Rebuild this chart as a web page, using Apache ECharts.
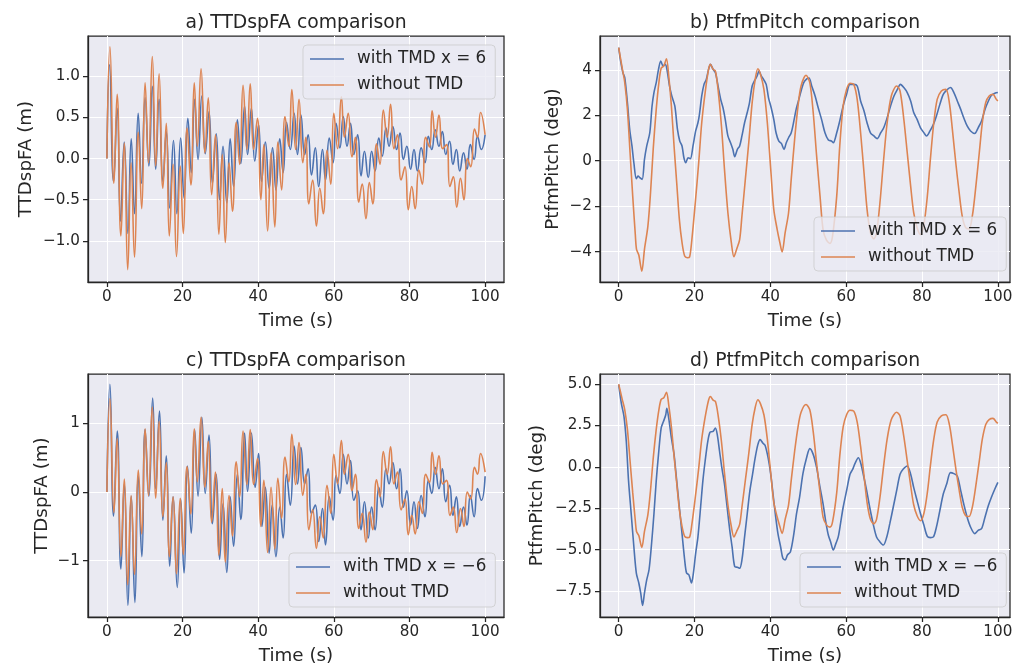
<!DOCTYPE html>
<html>
<head>
<meta charset="utf-8">
<script src="https://cdn.jsdelivr.net/npm/echarts@6/dist/echarts.min.js"></script>
<style>
  html, body { margin: 0; padding: 0; background: #ffffff; }
  #chart { width: 1027px; height: 666px; }
</style>
</head>
<body>
<div id="chart"></div>
<script>
// ---------------- data ----------------
const xTicks = [0, 20, 40, 60, 80, 100];
const yTicksA = [-1, -0.5, 0, 0.5, 1];
const yTicksB = [-4, -2, 0, 2, 4];
const yTicksC = [-1, 0, 1];
const yTicksD = [-7.5, -5, -2.5, 0, 2.5, 5];

const nameWith6 = 'with TMD x = 6';
const nameWithM6 = 'with TMD x = \u22126';
const nameWithout = 'without TMD';

// TTDspFA without TMD: [time s, value m] at local extrema
const ttdWithout = [[0,0],[0.8,1.36],[1.85,-0.30],[2.7,0.78],[3.7,-0.94],[4.6,0.19],[5.5,-1.35],[6.4,-0.05],[7.3,-1.20],[8.3,0.32],[9.2,-0.61],[10.1,0.92],[11.0,-0.05],[12.0,1.24],[12.9,-0.09],[13.8,1.03],[14.8,-0.36],[15.7,0.43],[16.5,-0.94],[17.5,-0.07],[18.4,-1.19],[19.4,-0.09],[20.2,-0.91],[21.2,0.37],[22.2,-0.32],[23.1,0.92],[23.9,0.15],[24.9,1.09],[25.9,0.07],[26.8,0.74],[27.7,-0.44],[28.7,0.29],[29.6,-0.92],[30.5,0.05],[31.3,-1.02],[32.3,-0.05],[33.2,-0.64],[34.2,0.44],[35.1,-0.07],[36.0,0.89],[37.0,0.11],[37.9,0.91],[38.8,0.11],[39.8,0.49],[40.7,-0.50],[41.5,0.17],[42.5,-0.88],[43.4,0.07],[44.4,-0.83],[45.2,0.20],[46.2,-0.38],[47.1,0.51],[48.1,0.15],[48.9,0.84],[49.9,0.11],[50.8,0.72],[51.8,-0.05],[52.6,0.26],[53.4,-0.55],[54.4,-0.26],[55.4,-0.82],[56.3,-0.36],[57.2,-0.67],[58.2,0.10],[59.2,-0.31],[60.0,0.55],[61.0,0.12],[62.0,0.75],[62.8,0.26],[63.8,0.55],[64.8,0.02],[65.7,0.26],[66.6,-0.53],[67.5,-0.31],[68.5,-0.73],[69.4,-0.29],[70.3,-0.55],[71.3,0.18],[72.2,-0.07],[73.1,0.59],[74.1,0.26],[75.0,0.66],[75.9,0.12],[76.8,0.29],[77.8,-0.26],[78.8,-0.10],[79.7,-0.62],[80.6,-0.34],[81.5,-0.61],[82.5,-0.14],[83.4,-0.31],[84.3,0.26],[85.3,0.14],[86.0,0.58],[86.9,0.26],[87.8,0.53],[88.8,0.12],[89.8,0.17],[90.7,-0.34],[91.6,-0.22],[92.5,-0.59],[93.5,-0.24],[94.4,-0.50],[95.3,0.00],[96.2,-0.10],[97.2,0.36],[98.0,0.26],[98.8,0.56],[100,0.29]];

// TTDspFA with TMD x = 6
const ttdWith6 = [[0,0],[0.7,1.14],[1.76,-0.28],[2.73,0.61],[3.6,-0.76],[4.58,0.20],[5.55,-0.91],[6.43,0.24],[7.3,-0.67],[8.27,0.55],[9.15,-0.30],[10.1,0.74],[11.1,-0.09],[12.0,0.88],[12.9,-0.13],[13.8,0.72],[14.8,-0.28],[15.7,0.33],[16.6,-0.60],[17.6,0.22],[18.5,-0.67],[19.5,0.25],[20.4,-0.48],[21.4,0.49],[22.3,-0.17],[23.2,0.72],[24.1,-0.01],[25.1,0.76],[26.0,0.06],[27.0,0.57],[27.9,-0.30],[28.9,0.30],[29.8,-0.50],[30.7,0.15],[31.7,-0.54],[32.6,0.24],[33.5,-0.34],[34.5,0.47],[35.4,-0.06],[36.4,0.64],[37.2,0.05],[38.2,0.61],[39.1,-0.03],[40.1,0.41],[40.9,-0.28],[41.9,0.20],[42.9,-0.36],[43.8,0.13],[44.7,-0.38],[45.7,0.24],[46.6,-0.17],[47.5,0.44],[48.5,0.11],[49.5,0.55],[50.4,0.05],[51.3,0.53],[52.3,0.05],[53.2,0.29],[54.1,-0.20],[55.1,0.13],[56.0,-0.34],[57.0,0.11],[57.8,-0.26],[58.8,0.25],[59.8,-0.05],[60.6,0.43],[61.6,0.13],[62.5,0.51],[63.5,0.15],[64.4,0.43],[65.3,0.05],[66.3,0.29],[67.2,-0.21],[68.1,0.09],[69.1,-0.23],[70.0,0.09],[70.9,-0.15],[71.9,0.25],[72.8,0.03],[73.8,0.37],[74.6,0.15],[75.6,0.39],[76.6,0.11],[77.5,0.31],[78.4,-0.01],[79.3,0.15],[80.3,-0.13],[81.2,0.11],[82.1,-0.15],[83.1,0.13],[84.1,-0.05],[85.0,0.27],[85.9,0.11],[86.8,0.35],[87.8,0.15],[88.7,0.33],[89.6,0.05],[90.6,0.21],[91.5,-0.07],[92.4,0.11],[93.3,-0.15],[94.3,0.07],[95.2,-0.13],[96.1,0.17],[97.1,-0.01],[98.0,0.27],[99.0,0.11],[100,0.29]];

// TTDspFA with TMD x = -6
const ttdWithM6 = [[0,0],[0.8,1.57],[1.76,-0.35],[2.73,0.89],[3.7,-1.12],[4.6,0.12],[5.55,-1.65],[6.43,-0.06],[7.4,-1.61],[8.27,0.24],[9.24,-0.94],[10.1,0.91],[11.1,-0.06],[12.1,1.37],[12.9,0.05],[13.9,1.18],[14.8,-0.41],[15.7,0.53],[16.6,-1.08],[17.5,-0.07],[18.6,-1.39],[19.5,-0.10],[20.4,-1.18],[21.3,0.38],[22.3,-0.60],[23.2,0.91],[24.1,-0.06],[25.1,1.09],[26.0,-0.02],[27.0,0.83],[27.9,-0.46],[28.9,0.26],[29.8,-0.98],[30.7,-0.17],[31.7,-1.17],[32.6,-0.07],[33.5,-0.79],[34.5,0.26],[35.4,-0.40],[36.4,0.86],[37.2,0.01],[38.2,0.86],[39.2,0.07],[40.1,0.56],[41.0,-0.50],[41.9,0.07],[42.9,-0.89],[43.7,-0.19],[44.7,-0.94],[45.7,-0.22],[46.6,-0.67],[47.5,0.26],[48.5,-0.19],[49.5,0.67],[50.4,0.12],[51.3,0.65],[52.3,0.12],[53.2,0.34],[54.1,-0.31],[55.1,-0.19],[56.0,-0.72],[57.0,-0.24],[57.8,-0.77],[58.8,-0.07],[59.8,-0.41],[60.6,0.24],[61.6,-0.02],[62.5,0.55],[63.5,0.12],[64.4,0.46],[65.3,-0.12],[66.3,0.02],[67.2,-0.55],[68.1,-0.14],[69.1,-0.67],[70.0,-0.22],[70.9,-0.55],[71.9,0.07],[72.8,-0.22],[73.8,0.34],[74.6,0.12],[75.6,0.43],[76.6,0.05],[77.5,0.34],[78.4,-0.22],[79.3,0.02],[80.3,-0.48],[81.2,-0.14],[82.1,-0.53],[83.1,-0.05],[84.1,-0.36],[85.0,0.17],[85.9,-0.02],[86.8,0.36],[87.8,0.05],[88.7,0.34],[89.6,-0.14],[90.6,0.10],[91.5,-0.34],[92.4,-0.07],[93.3,-0.50],[94.3,-0.22],[95.2,-0.48],[96.1,-0.05],[97.1,-0.36],[98.0,0.05],[99.0,-0.12],[100,0.23]];

// PtfmPitch without TMD: [time s, deg]
const pitchWithout = [[0,4.98],[0.9,4.1],[1.6,3.44],[2.3,2.26],[3.0,0.35],[3.7,-1.56],[4.4,-3.3],[4.7,-3.9],[5.3,-4.15],[6.1,-4.86],[6.8,-3.9],[7.7,-2.88],[8.4,-1.4],[9.1,0.5],[9.9,2.26],[10.6,3.44],[11.2,4.07],[11.9,4.17],[12.6,4.49],[13.2,3.73],[13.9,2.41],[14.6,0.65],[15.3,-0.97],[16.0,-2.58],[16.7,-3.6],[17.4,-4.2],[18.1,-4.27],[18.7,-4.24],[19.3,-3.47],[20.2,-1.85],[21.1,-0.09],[21.9,1.67],[22.8,3.0],[23.7,4.02],[24.2,4.24],[24.9,4.02],[25.5,3.95],[26.2,3.14],[27.1,1.53],[27.9,-0.38],[28.8,-2.29],[29.7,-3.6],[30.4,-4.23],[31.1,-3.9],[31.9,-3.47],[32.5,-2.44],[33.4,-0.82],[34.3,0.79],[35.2,2.56],[36.0,3.58],[36.7,4.05],[37.4,3.8],[38.3,3.14],[39.2,1.67],[40.1,-0.38],[40.9,-2.14],[41.8,-3.03],[42.5,-3.6],[43.1,-4.02],[43.9,-3.17],[44.8,-2.29],[45.5,-0.82],[46.4,0.94],[47.3,2.41],[48.1,3.29],[49.4,3.76],[50.4,3.44],[51.3,2.12],[52.2,0.21],[53.1,-1.56],[53.9,-3.03],[54.8,-3.5],[55.7,-3.64],[56.4,-3.32],[57.5,-1.56],[58.3,0.65],[59.2,2.41],[60.1,3.14],[61.0,3.41],[62.0,3.36],[62.9,2.7],[63.8,1.23],[64.7,-0.53],[65.5,-2.14],[66.4,-3.17],[67.3,-3.44],[68.0,-3.17],[68.9,-1.85],[69.8,-0.09],[70.8,1.67],[71.9,2.85],[73.3,3.29],[74.2,3.07],[75.2,1.82],[76.1,0.35],[77.0,-1.12],[77.8,-2.29],[78.7,-2.95],[79.6,-3.25],[80.5,-2.8],[81.4,-1.56],[82.2,0.06],[83.1,1.67],[84.0,2.7],[85.1,3.07],[86.3,3.14],[87.2,2.56],[88.0,1.38],[88.9,-0.09],[89.8,-1.41],[90.6,-2.44],[91.5,-2.95],[92.4,-3.0],[93.3,-2.4],[94.2,-1.12],[95.1,0.35],[95.9,1.67],[96.8,2.56],[97.7,2.85],[98.7,2.92],[99.6,2.70],[100,2.63]];

// PtfmPitch with TMD x = 6
const pitchWith6 = [[0,4.98],[0.5,4.39],[1.1,3.88],[1.6,3.66],[2.3,2.56],[2.9,1.38],[3.5,0.65],[4.0,-0.09],[4.65,-0.79],[5.1,-0.68],[5.6,-0.75],[6.2,-0.82],[6.8,0.06],[7.4,0.65],[8.2,1.23],[8.8,2.41],[9.3,3.0],[9.9,3.44],[10.5,4.02],[11.1,4.39],[11.7,4.17],[12.3,4.24],[12.8,3.95],[13.4,3.29],[14.0,2.85],[14.8,2.41],[15.5,1.38],[16.1,0.87],[16.7,0.65],[17.2,0.13],[17.7,-0.09],[18.3,0.13],[18.9,0.09],[19.6,0.65],[20.3,1.31],[20.9,1.67],[21.3,2.04],[21.9,2.85],[22.5,3.36],[23.1,3.58],[23.7,4.02],[24.2,4.24],[24.9,4.02],[25.5,3.88],[26.2,3.29],[26.9,2.7],[27.5,2.34],[28.1,1.82],[28.8,1.09],[29.5,0.79],[30.1,0.5],[30.6,0.18],[31.3,0.5],[31.9,0.65],[32.5,1.09],[33.2,1.67],[33.9,2.12],[34.5,2.56],[35.2,3.29],[35.8,3.51],[36.5,3.73],[37.0,3.95],[37.6,3.73],[38.2,3.58],[38.9,3.36],[39.5,2.78],[40.2,2.34],[40.9,1.82],[41.5,1.23],[42.2,0.87],[42.9,0.76],[43.6,0.5],[44.2,0.79],[44.8,1.01],[45.5,1.23],[46.2,1.75],[46.8,2.26],[47.4,2.63],[48.1,3.07],[48.8,3.44],[49.6,3.6],[50.2,3.64],[50.9,3.29],[51.8,2.85],[52.6,2.34],[53.5,1.82],[54.4,1.23],[55.3,0.91],[56.1,0.87],[56.6,0.79],[57.5,1.23],[58.3,1.75],[59.2,2.41],[60.1,2.92],[61.0,3.36],[62.0,3.36],[62.9,3.29],[63.8,2.63],[64.7,2.19],[65.5,1.67],[66.4,1.23],[67.3,1.09],[68.2,0.97],[69.1,1.23],[69.9,1.45],[70.8,1.89],[71.7,2.41],[72.6,2.85],[73.5,3.14],[74.3,3.36],[75.2,3.22],[76.1,3.0],[77.0,2.63],[77.8,2.12],[78.7,1.82],[79.6,1.45],[80.5,1.23],[81.2,1.09],[82.1,1.31],[83.0,1.6],[83.8,1.97],[84.7,2.48],[85.6,2.92],[86.5,3.11],[87.5,3.22],[88.4,3.0],[89.3,2.63],[90.2,2.26],[91.0,1.89],[91.9,1.53],[92.8,1.31],[93.9,1.2],[94.8,1.45],[95.7,1.75],[96.6,2.26],[97.5,2.63],[98.3,2.88],[99.2,2.97],[100,3.0]];

// PtfmPitch with TMD x = -6
const pitchWithM6 = [[0,4.96],[0.7,3.83],[1.4,3.03],[2.0,1.54],[2.6,-0.85],[3.3,-2.83],[4.0,-4.82],[4.65,-6.41],[5.3,-7.01],[5.8,-7.61],[6.3,-8.36],[6.8,-7.61],[7.4,-6.81],[8.0,-6.21],[8.6,-4.82],[9.3,-2.83],[9.9,-0.85],[10.5,0.75],[11.2,2.34],[11.8,2.73],[12.4,3.13],[12.7,3.53],[13.2,2.93],[13.9,1.74],[14.6,0.75],[15.3,-0.85],[16.0,-2.44],[16.7,-4.03],[17.4,-5.62],[17.9,-6.41],[18.5,-6.51],[19.2,-7.01],[19.7,-6.41],[20.3,-5.22],[20.9,-4.23],[21.6,-2.44],[22.2,-0.85],[22.8,0.35],[23.5,1.54],[24.1,2.09],[24.9,2.14],[25.5,2.34],[26.0,1.94],[26.6,0.94],[27.2,-0.05],[27.9,-1.04],[28.6,-2.44],[29.3,-3.83],[29.9,-4.82],[30.6,-6.02],[31.3,-6.06],[31.9,-6.12],[32.5,-5.62],[33.2,-4.23],[33.9,-2.83],[34.6,-1.44],[35.3,-0.45],[36.0,0.55],[36.7,1.34],[37.3,1.64],[38.0,1.44],[38.6,1.30],[39.4,0.55],[40.1,-0.45],[40.7,-1.64],[41.3,-2.83],[42.0,-4.03],[42.7,-4.82],[43.3,-5.52],[43.9,-5.62],[44.5,-5.32],[45.3,-5.12],[46.2,-4.03],[46.9,-2.83],[47.7,-1.84],[48.6,-0.40],[49.55,0.55],[50.4,1.10],[51.3,0.75],[52.2,-0.05],[53.1,-1.24],[53.9,-2.24],[54.7,-3.43],[55.3,-4.13],[55.9,-4.53],[56.6,-5.02],[57.3,-4.62],[57.9,-4.23],[58.5,-3.43],[59.2,-2.44],[60.1,-1.44],[61.0,-0.45],[61.7,-0.15],[62.3,0.19],[63.2,0.55],[63.8,0.25],[64.5,-0.45],[65.4,-1.44],[66.2,-2.44],[67.1,-3.43],[68.0,-4.23],[68.9,-4.53],[69.8,-4.72],[70.7,-4.23],[71.5,-3.43],[72.4,-2.44],[73.3,-1.44],[74.2,-0.45],[75.0,-0.15],[76.1,0.05],[77.0,-0.45],[77.8,-1.24],[78.7,-2.04],[79.6,-2.83],[80.5,-3.53],[81.4,-4.20],[82.2,-4.27],[83.0,-4.23],[83.8,-3.63],[84.7,-2.64],[85.6,-1.64],[86.5,-1.04],[87.5,-0.35],[88.4,-0.41],[89.3,-0.55],[90.2,-1.44],[91.0,-2.24],[91.9,-3.04],[92.8,-3.63],[93.9,-4.03],[94.8,-3.83],[95.7,-3.73],[96.6,-3.04],[97.5,-2.34],[98.3,-1.84],[99.2,-1.34],[100,-0.94]];

// ---------------- styling / layout ----------------
const FONT = 'DejaVu Sans';
const TXT = '#262626';
const BLUE = '#4C72B0';
const ORANGE = '#DD8452';
const minus = s => String(s).replace('-', '\u2212');

const panels = [
  { title: 'a) TTDspFA comparison', left: 88, top: 36, width: 416, xMin: -5, xMax: 105,
    yMin: -1.5, yMax: 1.49, yTicks: yTicksA, fmt: v => minus(v.toFixed(1)),
    yName: 'TTDspFA (m)', yGap: 53, smooth: 0.5,
    series: [[nameWith6, ttdWith6, BLUE], [nameWithout, ttdWithout, ORANGE]],
    legend: { left: 303, top: 45 } },
  { title: 'b) PtfmPitch comparison', left: 600, top: 36, width: 410, xMin: -4.93, xMax: 103.2,
    yMin: -5.34, yMax: 5.49, yTicks: yTicksB, fmt: v => minus(v),
    yName: 'PtfmPitch (deg)', yGap: 38, smooth: 0.3,
    series: [[nameWith6, pitchWith6, BLUE], [nameWithout, pitchWithout, ORANGE]],
    legend: { left: 814, top: 217 } },
  { title: 'c) TTDspFA comparison', left: 88, top: 374, width: 416, xMin: -5, xMax: 105,
    yMin: -1.82, yMax: 1.72, yTicks: yTicksC, fmt: v => minus(v),
    yName: 'TTDspFA (m)', yGap: 37, smooth: 0.5,
    series: [[nameWithM6, ttdWithM6, BLUE], [nameWithout, ttdWithout, ORANGE]],
    legend: { left: 289, top: 553 } },
  { title: 'd) PtfmPitch comparison', left: 600, top: 374, width: 410, xMin: -4.93, xMax: 103.2,
    yMin: -9.06, yMax: 5.6, yTicks: yTicksD, fmt: v => minus(v.toFixed(1)),
    yName: 'PtfmPitch (deg)', yGap: 54, smooth: 0.3,
    series: [[nameWithM6, pitchWithM6, BLUE], [nameWithout, pitchWithout, ORANGE]],
    legend: { left: 800, top: 553 } }
];
const H = 246;

const option = {
  backgroundColor: '#ffffff',
  animation: false,
  textStyle: { fontFamily: FONT },
  title: [], grid: [], xAxis: [], yAxis: [], legend: [], series: []
};

panels.forEach((p, i) => {
  option.title.push({
    text: p.title, left: p.left + p.width / 2, top: p.top - 12.5,
    textAlign: 'center', textVerticalAlign: 'middle', padding: 0,
    textStyle: { fontSize: 18.8, fontWeight: 'normal', color: TXT, fontFamily: FONT }
  });
  option.grid.push({
    left: p.left, top: p.top, width: p.width, height: H,
    show: true, backgroundColor: '#EAEAF2', borderColor: TXT, borderWidth: 1.25
  });
  option.xAxis.push({
    type: 'value', gridIndex: i, min: p.xMin, max: p.xMax,
    axisLine: { show: true, onZero: false, lineStyle: { color: TXT, width: 1.25 } },
    axisTick: { show: true, length: 5, customValues: xTicks, lineStyle: { color: TXT, width: 1.25 } },
    axisLabel: { customValues: xTicks, fontSize: 15.2, color: TXT, fontFamily: FONT, margin: 8,
                 formatter: v => minus(v) },
    splitLine: { show: true, lineStyle: { color: '#ffffff', width: 1 } },
    name: 'Time (s)', nameLocation: 'middle', nameGap: 30,
    nameTextStyle: { fontSize: 18.3, color: TXT, fontFamily: FONT }
  });
  option.yAxis.push({
    type: 'value', gridIndex: i, min: p.yMin, max: p.yMax,
    axisLine: { show: true, onZero: false, lineStyle: { color: TXT, width: 1.25 } },
    axisTick: { show: true, length: 5, customValues: p.yTicks, lineStyle: { color: TXT, width: 1.25 } },
    axisLabel: { customValues: p.yTicks, fontSize: 15.2, color: TXT, fontFamily: FONT, margin: 8,
                 formatter: p.fmt },
    splitLine: { show: true, lineStyle: { color: '#ffffff', width: 1 } },
    name: p.yName, nameLocation: 'middle', nameGap: p.yGap,
    nameTextStyle: { fontSize: 18.3, color: TXT, fontFamily: FONT }
  });
  option.legend.push({
    orient: 'vertical', left: p.legend.left, top: p.legend.top,
    data: p.series.map(s => ({ name: s[0], icon: 'rect' })), selectedMode: false,
    itemWidth: 34, itemHeight: 1.5, itemGap: 8,
    padding: [5, 9, 5, 7],
    backgroundColor: 'rgba(234,234,242,0.8)', borderColor: 'rgba(204,204,204,0.8)',
    borderWidth: 1, borderRadius: 4,
    textStyle: { fontSize: 16.8, color: TXT, fontFamily: FONT, lineHeight: 18, padding: [0, 0, 0, 8] }
  });
  p.series.forEach(s => {
    option.series.push({
      type: 'line', name: s[0], xAxisIndex: i, yAxisIndex: i, data: s[1],
      symbol: 'none', smooth: p.smooth, silent: true,
      lineStyle: { width: 1.6, color: s[2] }, itemStyle: { color: s[2] }
    });
  });
});

const chart = echarts.init(document.getElementById('chart'), null, { renderer: 'canvas' });
chart.setOption(option);
</script>
</body>
</html>
